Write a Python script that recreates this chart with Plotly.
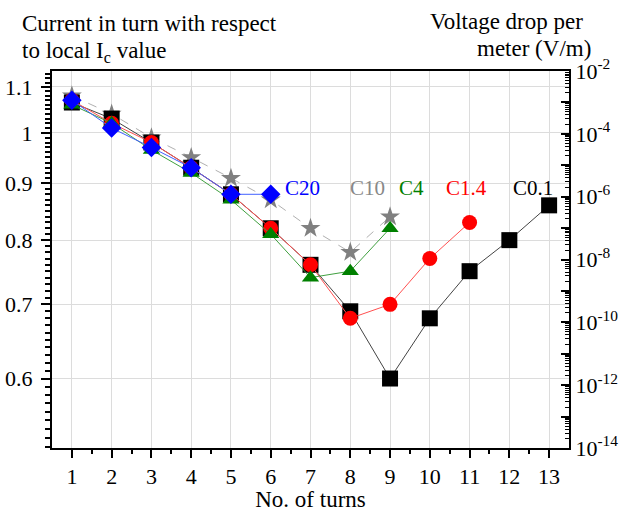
import plotly.graph_objects as go
import numpy as np

# ---- data ----
turns = list(range(1, 14))
c01 = [1.065, 1.03, 0.98, 0.93, 0.88, 0.82, 0.76, 0.69, 0.60, 0.68, 0.75, 0.80, 0.86]
c14 = [1.07, 1.02, 0.98, 0.93, 0.88, 0.82, 0.76, 0.68, 0.70, 0.77, 0.83]
c4 = [1.06, 1.02, 0.965, 0.92, 0.87, 0.81, 0.74, 0.75, 0.82]
c10 = [1.08, 1.04, 0.99, 0.95, 0.91, 0.87, 0.82, 0.78, 0.84]
c20 = [1.07, 1.01, 0.97, 0.93, 0.88, 0.88]
left_ticks = [0.6, 0.7, 0.8, 0.9, 1.0, 1.1]
left_ticktext = ["0.6", "0.7", "0.8", "0.9", "1", "1.1"]
right_exps = list(range(-14, -1))

FONT = "Liberation Serif, Times New Roman, DejaVu Serif, serif"

fig = go.Figure()

def add(xs, ys, name, color, linecolor, symbol, size, dash="solid"):
    fig.add_trace(go.Scatter(
        x=xs, y=ys, name=name, mode="lines+markers",
        line=dict(color=linecolor, width=1, dash=dash),
        marker=dict(symbol=symbol, size=size, color=color, line=dict(width=0)),
        showlegend=False))

add(turns[:len(c10)], c10, "C10", "#808080", "#b0b0b0", "star", 15, "dash")
add(turns[:len(c01)], c01, "C0.1", "#000000", "#444444", "square", 16)
add(turns[:len(c14)], c14, "C1.4", "#ff0000", "#ff5050", "circle", 15)
add(turns[:len(c4)], c4, "C4", "#008000", "#40a040", "triangle-up", 15)
add(turns[:len(c20)], c20, "C20", "#0000ff", "#4060ff", "diamond", 15)

# empty trace so that the right (voltage) axis is drawn
fig.add_trace(go.Scatter(x=[], y=[], yaxis="y2", showlegend=False, hoverinfo="skip"))

minor_left = [round(v, 2) for v in np.arange(0.52, 1.14, 0.01)]
minor_left = [v for v in minor_left if v not in left_ticks]
major_right = [10.0 ** e for e in right_exps]
right_text = [("10<sup>%d</sup>" % e) if e % 2 == 0 else "" for e in right_exps]
minor_right = [k * 10.0 ** e for e in right_exps[:-1] for k in range(2, 10)]

fig.update_layout(
    width=621, height=512,
    margin=dict(l=52, r=52, t=71, b=64, autoexpand=False),
    paper_bgcolor="white", plot_bgcolor="white",
    font=dict(family=FONT, size=22, color="black"),
    xaxis=dict(
        range=[0.5, 13.5], tickmode="array", tickvals=turns, automargin=False,
        ticks="outside", ticklen=8, tickwidth=1.5, tickcolor="black",
        minor=dict(tickvals=[t + 0.5 for t in turns[:-1]], ticks="outside", ticklen=4,
                   tickwidth=1.5, tickcolor="black", showgrid=False),
        showline=True, linecolor="black", linewidth=2, mirror=True,
        showgrid=True, gridcolor="#dcdcdc", gridwidth=1, zeroline=False,
        tickfont=dict(size=22),
        title=dict(text="No. of turns", font=dict(size=23), standoff=14),
    ),
    yaxis=dict(
        type="log", range=[np.log10(0.5193), np.log10(1.1371)], automargin=False,
        tickmode="array", tickvals=left_ticks, ticktext=left_ticktext,
        ticks="outside", ticklen=9, tickwidth=1.5, tickcolor="black",
        minor=dict(tickvals=minor_left, ticks="outside", ticklen=5, tickwidth=1.5,
                   tickcolor="black", showgrid=False),
        showline=True, linecolor="black", linewidth=2,
        showgrid=True, gridcolor="#dcdcdc", gridwidth=1, zeroline=False,
        tickfont=dict(size=22), ticklabelstandoff=4,
    ),
    yaxis2=dict(
        type="log", range=[-14, -2], overlaying="y", side="right", automargin=False,
        tickmode="array", tickvals=major_right, ticktext=right_text,
        ticks="inside", ticklen=8, tickwidth=1.5, tickcolor="black",
        minor=dict(tickvals=minor_right, ticks="inside", ticklen=4, tickwidth=1,
                   tickcolor="black", showgrid=False),
        showline=True, linecolor="black", linewidth=2,
        showgrid=False, zeroline=False, tickfont=dict(size=22),
    ),
)

def ann(text, x, y, xanchor, color="black", size=23):
    fig.add_annotation(text=text, x=x, y=y, xref="paper", yref="paper",
                       xanchor=xanchor, yanchor="middle", showarrow=False,
                       font=dict(family=FONT, size=size, color=color))

ann("Current in turn with respect", -0.0619, 1.127, "left")
ann("to local I<sub>c</sub> value", -0.0619, 1.050, "left")
ann("Voltage drop per", 1.031, 1.130, "right")
ann("meter (V/m)", 1.0464, 1.061, "right")

ann("C20", 0.4845, 0.69, "center", "#0000ff", 21)
ann("C10", 0.6112, 0.69, "center", "#888888", 21)
ann("C4", 0.6954, 0.69, "center", "#008000", 21)
ann("C1.4", 0.8017, 0.69, "center", "#ff0000", 21)
ann("C0.1", 0.9304, 0.69, "center", "#000000", 21)

fig.write_html("out.html", config={"displayModeBar": False},
               post_script="document.body.style.margin='0';document.body.style.padding='0';")
